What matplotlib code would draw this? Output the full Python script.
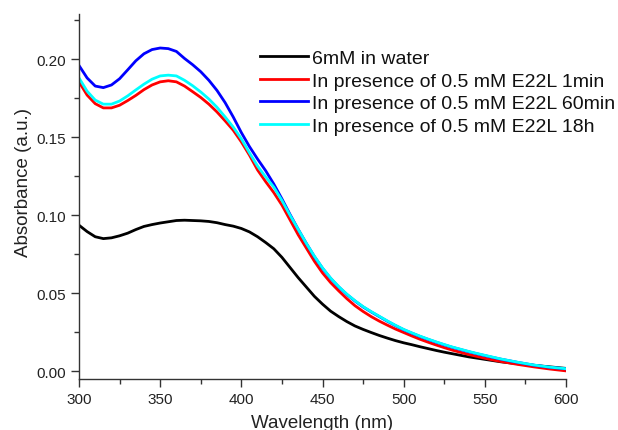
import matplotlib
matplotlib.use("Agg")
import matplotlib.pyplot as plt
from matplotlib.ticker import MultipleLocator, FormatStrFormatter
import numpy as np

plt.rcParams['font.family'] = ['Liberation Sans', 'DejaVu Sans']

# wavelength (nm) and absorbance
wavelength = np.arange(300, 601, 5)

water = [0.0936, 0.0895, 0.0862, 0.0850, 0.0855, 0.0868, 0.0885, 0.0908,
         0.0928, 0.0940, 0.0950, 0.0958, 0.0966, 0.0968, 0.0966, 0.0964,
         0.0960, 0.0952, 0.0940, 0.0930, 0.0915, 0.0893, 0.0862, 0.0825,
         0.0785, 0.0730, 0.0665, 0.0600, 0.0540, 0.0480, 0.0430, 0.0385,
         0.0350, 0.0318, 0.0290, 0.0268, 0.0248, 0.0229, 0.0212, 0.0196,
         0.0182, 0.0170, 0.0157, 0.0145, 0.0133, 0.0122, 0.0112, 0.0102,
         0.0092, 0.0084, 0.0076, 0.0068, 0.0060, 0.0054, 0.0048, 0.0043,
         0.0038, 0.0033, 0.0028, 0.0023, 0.0018]
e22l_1min = [0.1855, 0.1770, 0.1715, 0.1688, 0.1688, 0.1705, 0.1735, 0.1768,
             0.1805, 0.1835, 0.1855, 0.1862, 0.1855, 0.1828, 0.1792, 0.1755,
             0.1712, 0.1662, 0.1605, 0.1545, 0.1470, 0.1385, 0.1290, 0.1215,
             0.1145, 0.1065, 0.0970, 0.0875, 0.0790, 0.0705, 0.0630, 0.0568,
             0.0515, 0.0465, 0.0420, 0.0383, 0.0350, 0.0321, 0.0295, 0.0270,
             0.0248, 0.0226, 0.0205, 0.0186, 0.0168, 0.0151, 0.0135, 0.0121,
             0.0107, 0.0095, 0.0083, 0.0072, 0.0062, 0.0053, 0.0044, 0.0036,
             0.0028, 0.0021, 0.0014, 0.0008, 0.0002]
e22l_60min = [0.1960, 0.1880, 0.1828, 0.1818, 0.1835, 0.1875, 0.1932, 0.1990,
              0.2035, 0.2062, 0.2072, 0.2068, 0.2050, 0.2005, 0.1965, 0.1920,
              0.1865, 0.1800, 0.1722, 0.1630, 0.1530, 0.1440, 0.1360, 0.1285,
              0.1200, 0.1105, 0.1005, 0.0910, 0.0820, 0.0735, 0.0660, 0.0595,
              0.0540, 0.0492, 0.0450, 0.0412, 0.0380, 0.0350, 0.0320, 0.0292,
              0.0266, 0.0244, 0.0223, 0.0204, 0.0186, 0.0169, 0.0153, 0.0139,
              0.0125, 0.0112, 0.0100, 0.0088, 0.0077, 0.0067, 0.0057, 0.0048,
              0.0039, 0.0032, 0.0025, 0.0020, 0.0015]
e22l_18h = [0.1880, 0.1795, 0.1738, 0.1712, 0.1712, 0.1732, 0.1765, 0.1803,
            0.1840, 0.1872, 0.1893, 0.1898, 0.1893, 0.1865, 0.1830, 0.1790,
            0.1745, 0.1692, 0.1630, 0.1565, 0.1490, 0.1400, 0.1315, 0.1245,
            0.1180, 0.1095, 0.1000, 0.0910, 0.0820, 0.0737, 0.0662, 0.0597,
            0.0542, 0.0494, 0.0452, 0.0414, 0.0382, 0.0352, 0.0322, 0.0294,
            0.0268, 0.0246, 0.0225, 0.0206, 0.0188, 0.0171, 0.0155, 0.0141,
            0.0127, 0.0114, 0.0102, 0.0090, 0.0078, 0.0068, 0.0058, 0.0049,
            0.0040, 0.0033, 0.0026, 0.0021, 0.0016]

labels = ["6mM in water",
          "In presence of 0.5 mM E22L 1min",
          "In presence of 0.5 mM E22L 60min",
          "In presence of 0.5 mM E22L 18h"]
colors = ["#000000", "#ff0000", "#0000ff", "#00ffff"]

fig = plt.figure(figsize=(6.18, 4.31), dpi=100)
ax = fig.add_axes([79/618, 1 - 380/431, (566 - 79)/618, (380 - 15)/431])

for y, lab, c in zip([water, e22l_1min, e22l_60min, e22l_18h], labels, colors):
    ax.plot(wavelength, y, color=c, lw=2.0, label=lab)

ax.set_xlim(300, 600)
ax.set_ylim(-0.005, 0.229)
ax.xaxis.set_major_locator(MultipleLocator(50))
ax.xaxis.set_minor_locator(MultipleLocator(25))
ax.yaxis.set_major_locator(MultipleLocator(0.05))
ax.yaxis.set_minor_locator(MultipleLocator(0.025))
ax.yaxis.set_major_formatter(FormatStrFormatter('%.2f'))

for s in ['top', 'right']:
    ax.spines[s].set_visible(False)
for s in ['left', 'bottom']:
    ax.spines[s].set_linewidth(1.0)
    ax.spines[s].set_color('#333333')

ax.tick_params(which='major', direction='out', length=6, width=1, labelsize=11,
               colors='#333333', labelcolor='#222222')
ax.tick_params(which='minor', direction='out', length=3.5, width=1, colors='#333333')

ax.set_xlabel("Wavelength (nm)", fontsize=13.5, color='#222222')
ax.set_ylabel("Absorbance (a.u.)", fontsize=13.5, color='#222222')
ax.xaxis.set_label_coords(0.5, -0.097)
ax.yaxis.set_label_coords(-0.097, 0.54)

leg = ax.legend(loc='upper left', bbox_to_anchor=(260/618, 1 - 50.5/431),
                bbox_transform=fig.transFigure, frameon=False, fontsize=14,
                handlelength=2.45, handletextpad=0.2, labelspacing=0.25,
                borderpad=0, borderaxespad=0)
for t in leg.get_texts():
    t.set_color('#111111')

fig.savefig("out.png", dpi=100)
